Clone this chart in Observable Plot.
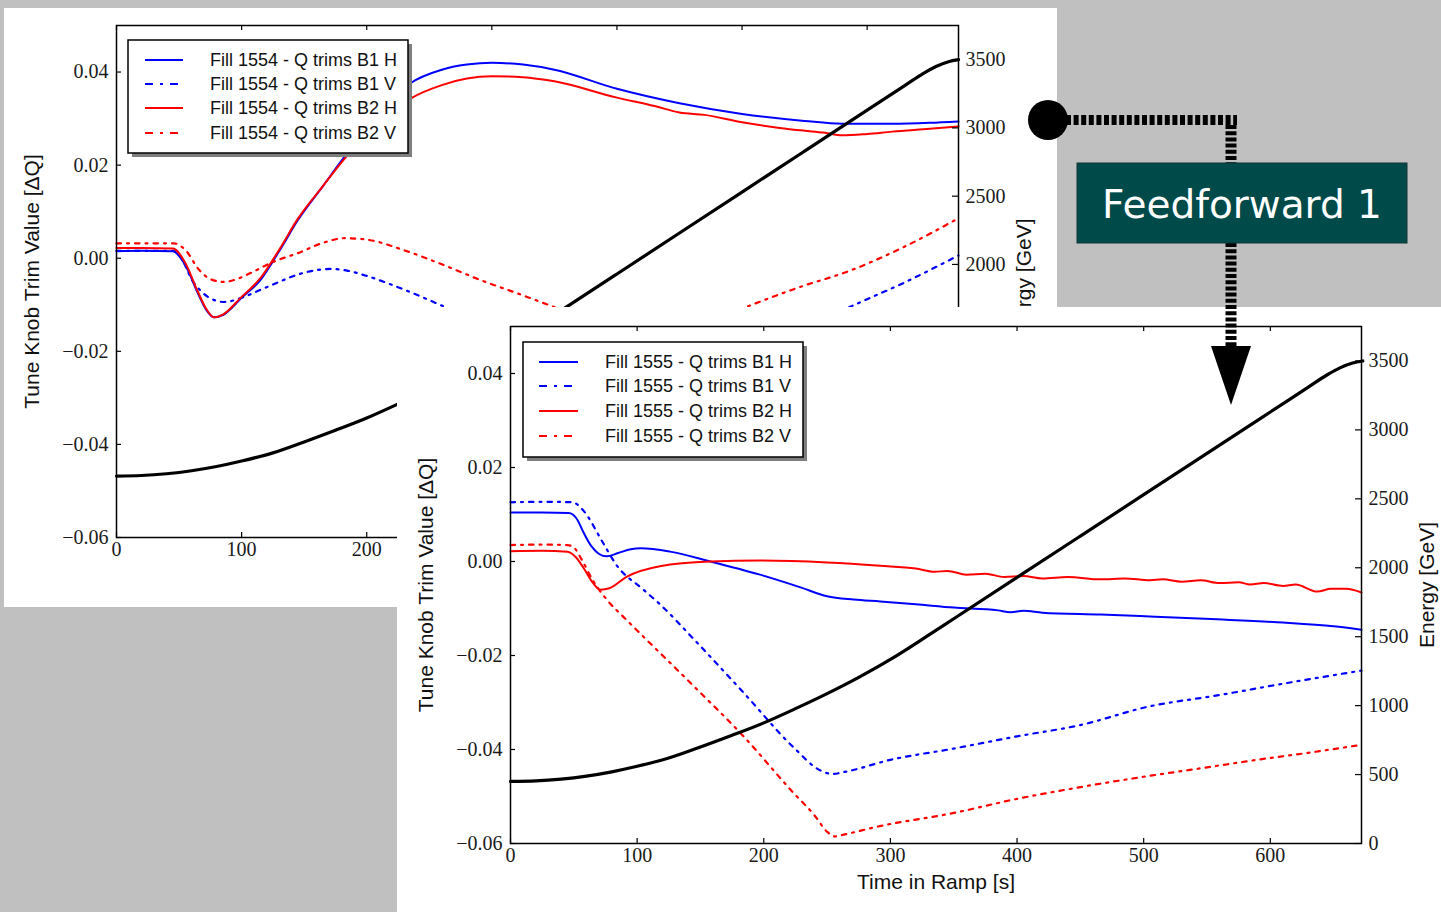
<!DOCTYPE html>
<html>
<head>
<meta charset="utf-8">
<script src="https://cdn.jsdelivr.net/npm/d3@7"></script>
<script src="https://cdn.jsdelivr.net/npm/@observablehq/plot@0.6"></script>
<style>
  html, body { margin: 0; padding: 0; }
  body { width: 1441px; height: 912px; overflow: hidden; background: #c0c0c0; position: relative; }
  .panel { position: absolute; background: #ffffff; overflow: hidden; }
  #p1 { left: 4px; top: 8px; width: 1053px; height: 599px; }
  #p2 { left: 397px; top: 307px; width: 1044px; height: 605px; }
  .panel svg { position: absolute; left: 0; top: 0; }
  #overlay { position: absolute; left: 0; top: 0; }
</style>
</head>
<body>
<div class="panel" id="p1"></div>
<div class="panel" id="p2"></div>
<svg id="overlay" width="1441" height="912"></svg>
<script>
// ---------------- DATA ----------------
const xTicks = [0, 100, 200, 300, 400, 500, 600];
const yTicks = [-0.06, -0.04, -0.02, 0, 0.02, 0.04];
const energyTicks = [0, 500, 1000, 1500, 2000, 2500, 3000, 3500];
// tick labels of the back chart that are not covered by the front chart
const xTickLabelsBack = [0, 100, 200];
const energyTickLabelsBack = [2000, 2500, 3000, 3500];
const yDomain = [-0.06, 0.05];
const energyMax = 3750;

// beam energy during the ramp [s, GeV]
const energyRamp = [[0,450],[20,454],[40,467],[60,489],[80,520],[100,560],[125,620],[150,700],[175,785],[200,875],[225,978],[250,1087],[275,1205],[300,1335],[325,1480],[350,1630],[400,1930],[450,2230],[500,2530],[550,2830],[600,3130],[630,3310],[645,3400],[655,3450],[665,3485],[673,3500]];

// Fill 1554 [s, dQ]
const fill1554_B1H = [[0,0.0015],[20,0.0016],[45,0.0015],[55,-0.0015],[65,-0.0075],[72,-0.0112],[78,-0.0127],[85,-0.0122],[100,-0.0085],[115,-0.0047],[130,0.0015],[145,0.0082],[165,0.0155],[182,0.0217],[210,0.031],[235,0.0376],[260,0.0405],[280,0.0416],[300,0.042],[325,0.0416],[350,0.0405],[400,0.0364],[450,0.0333],[500,0.031],[550,0.0295],[580,0.0289],[620,0.0289],[650,0.0291],[673,0.0294]];
const fill1554_B1V = [[0,0.0016],[45,0.0016],[52,0.0],[60,-0.0045],[68,-0.0072],[75,-0.0086],[86,-0.0094],[100,-0.0085],[115,-0.0068],[129,-0.0052],[145,-0.0035],[161,-0.0025],[172,-0.0023],[185,-0.0027],[200,-0.0038],[217,-0.0054],[235,-0.0073],[261,-0.0103],[300,-0.015],[350,-0.0205],[400,-0.024],[440,-0.025],[480,-0.0235],[530,-0.018],[586,-0.0105],[630,-0.0052],[673,0.0006]];
const fill1554_B2H = [[0,0.0022],[20,0.0022],[45,0.0021],[55,-0.001],[65,-0.0072],[72,-0.011],[78,-0.0127],[85,-0.0121],[100,-0.0083],[115,-0.0043],[130,0.0018],[145,0.0085],[165,0.0155],[182,0.0213],[210,0.029],[235,0.0343],[260,0.0372],[280,0.0386],[300,0.0391],[325,0.0389],[350,0.038],[400,0.0345],[430,0.0327],[450,0.0313],[470,0.0308],[500,0.0292],[530,0.028],[550,0.0274],[565,0.027],[580,0.0264],[600,0.0267],[620,0.0272],[650,0.0278],[673,0.0283]];
const fill1554_B2V = [[0,0.0032],[46,0.0032],[55,0.0018],[66,-0.0025],[76,-0.0046],[86,-0.0051],[96,-0.0045],[107,-0.0032],[125,-0.0008],[145,0.0011],[165,0.0033],[182,0.0043],[200,0.004],[230,0.0017],[260,-0.0013],[291,-0.0047],[320,-0.0075],[346,-0.0101],[380,-0.0135],[420,-0.0158],[460,-0.015],[503,-0.0105],[545,-0.0063],[587,-0.0026],[630,0.0025],[673,0.0086]];

// Fill 1555 [s, dQ]
const fill1555_B1H = [[0,0.0104],[25,0.0104],[46,0.0103],[52,0.0092],[58,0.006],[64,0.0032],[70,0.0016],[76,0.0011],[85,0.0018],[95,0.0026],[103,0.0028],[126,0.0021],[158,0.0],[197,-0.0028],[229,-0.0055],[250,-0.0074],[271,-0.0081],[292,-0.0085],[320,-0.0091],[350,-0.0098],[385,-0.0104],[395,-0.0108],[405,-0.0105],[420,-0.0109],[466,-0.0113],[505,-0.0117],[558,-0.0123],[610,-0.013],[650,-0.0138],[672,-0.0145]];
const fill1555_B1V = [[0,0.0126],[25,0.0127],[49,0.0126],[57,0.011],[73,0.004],[83,-0.0005],[105,-0.006],[118,-0.0091],[145,-0.0166],[184,-0.0279],[223,-0.0394],[245,-0.0445],[254,-0.0452],[265,-0.0447],[300,-0.0422],[350,-0.0398],[400,-0.0372],[450,-0.0348],[505,-0.0308],[558,-0.0285],[610,-0.026],[672,-0.0232]];
const fill1555_B2H = [[0,0.0022],[25,0.0023],[45,0.0021],[52,0.0008],[58,-0.0015],[65,-0.0045],[71,-0.006],[78,-0.0057],[92,-0.0032],[118,-0.001],[158,0.0],[197,0.0002],[250,-0.0002],[292,-0.0009],[320,-0.0015],[335,-0.0022],[345,-0.002],[360,-0.0028],[375,-0.0026],[390,-0.0033],[405,-0.0031],[420,-0.0036],[440,-0.0033],[466,-0.0038],[485,-0.0036],[505,-0.004],[515,-0.0038],[530,-0.0043],[545,-0.004],[560,-0.0046],[575,-0.0044],[584,-0.0049],[595,-0.0046],[610,-0.0052],[620,-0.0049],[637,-0.0064],[648,-0.0058],[660,-0.0058],[672,-0.0066]];
const fill1555_B2V = [[0,0.0035],[25,0.0036],[45,0.0035],[50,0.003],[56,0.0005],[65,-0.004],[76,-0.0081],[90,-0.012],[105,-0.016],[145,-0.0266],[184,-0.0372],[223,-0.0491],[240,-0.054],[250,-0.0575],[256,-0.0585],[265,-0.058],[290,-0.0564],[350,-0.0535],[400,-0.0505],[450,-0.048],[500,-0.0458],[550,-0.0438],[592,-0.0421],[630,-0.0407],[672,-0.039]];

const labels1554 = ["Fill 1554 - Q trims B1 H", "Fill 1554 - Q trims B1 V", "Fill 1554 - Q trims B2 H", "Fill 1554 - Q trims B2 V"];
const labels1555 = ["Fill 1555 - Q trims B1 H", "Fill 1555 - Q trims B1 V", "Fill 1555 - Q trims B2 H", "Fill 1555 - Q trims B2 V"];
const seriesColors = ["#0000ff", "#0000ff", "#ff0000", "#ff0000"];
const seriesDashed = [false, true, false, true];
const yLabel = "Tune Knob Trim Value [ΔQ]";
const y2Label = "Energy [GeV]";
const xLabel = "Time in Ramp [s]";
const boxLabel = "Feedforward 1";

// ---------------- STYLE ----------------
const SERIF = "'Liberation Serif', 'DejaVu Serif', serif";
const SANS = "'Liberation Sans', Arial, sans-serif";
const DASH = "4.5,6,2,6";

function makeChart({width, height, mL, mR, mT, mB, xMax, series, xLabelTicks, energyLabelTicks, showXTitle}) {
  const pw = width - mL - mR, ph = height - mT - mB;
  const e2y = e => yDomain[0] + e / energyMax * (yDomain[1] - yDomain[0]);
  const y2e = y => Math.round((y - yDomain[0]) / (yDomain[1] - yDomain[0]) * energyMax);
  const fmtY = d => Math.abs(d) < 1e-9 ? "0.00" : (d < 0 ? "\u2212" : "") + Math.abs(d).toFixed(2);
  const marks = [];
  series.forEach((s, i) => {
    marks.push(Plot.line(s, {x: d => d[0], y: d => d[1], stroke: seriesColors[i], strokeWidth: seriesDashed[i] ? 2.2 : 2,
      strokeDasharray: seriesDashed[i] ? DASH : undefined, curve: "monotone-x"}));
  });
  marks.push(Plot.line(energyRamp, {x: d => d[0], y: d => e2y(d[1]), stroke: "black", strokeWidth: 3.2, curve: "monotone-x"}));
  marks.push(Plot.frame({stroke: "black", strokeWidth: 1.5}));
  // inward ticks
  marks.push(Plot.ruleY(yTicks, {y: d => d, insetRight: pw - 5, stroke: "black", strokeWidth: 1.2}));
  marks.push(Plot.ruleY(energyTicks.map(e2y), {y: d => d, insetLeft: pw - 6, stroke: "black", strokeWidth: 1.2}));
  marks.push(Plot.ruleX(xTicks, {x: d => d, insetTop: ph - 5, stroke: "black", strokeWidth: 1.2}));
  marks.push(Plot.ruleX(xTicks, {x: d => d, insetBottom: ph - 5, stroke: "black", strokeWidth: 1.2}));
  // tick labels
  marks.push(Plot.axisY(yTicks, {anchor: "left", tickSize: 0, tickPadding: 8, tickFormat: fmtY, fontSize: 20, fontFamily: SERIF, fill: "#1a1a1a", label: null}));
  marks.push(Plot.axisY(energyLabelTicks.map(e2y), {anchor: "right", tickSize: 0, tickPadding: 7, tickFormat: y => String(y2e(y)), fontSize: 20, fontFamily: SERIF, fill: "#1a1a1a", label: null}));
  marks.push(Plot.axisX(xLabelTicks, {anchor: "bottom", tickSize: 0, tickPadding: 4, tickFormat: d => String(d), fontSize: 20, fontFamily: SERIF, fill: "#1a1a1a", label: null}));
  // axis titles
  marks.push(Plot.text([yLabel], {text: d => d, frameAnchor: "left", dx: -84, rotate: -90, textAnchor: "middle", lineAnchor: "middle", fontSize: 21, fontFamily: SANS, fill: "#111"}));
  marks.push(Plot.text([y2Label], {text: d => d, frameAnchor: "right", dx: 66, rotate: -90, textAnchor: "middle", lineAnchor: "middle", fontSize: 21, fontFamily: SANS, fill: "#111"}));
  if (showXTitle) marks.push(Plot.text([xLabel], {text: d => d, frameAnchor: "bottom", dy: 39, textAnchor: "middle", lineAnchor: "middle", fontSize: 21, fontFamily: SANS, fill: "#111"}));
  return Plot.plot({
    width, height, marginLeft: mL, marginRight: mR, marginTop: mT, marginBottom: mB,
    x: {domain: [0, xMax]}, y: {domain: yDomain},
    style: {background: "transparent", fontFamily: SERIF, color: "#111", overflow: "visible"},
    marks
  });
}

function addLegend(panelEl, pw, ph, {x, y, w, h, sx0, sx1, tx, rows, labels}) {
  const svg = d3.select(panelEl).append("svg").attr("width", pw).attr("height", ph);
  svg.append("rect").attr("x", x + 4).attr("y", y + 4).attr("width", w).attr("height", h).attr("fill", "#7f7f7f");
  svg.append("rect").attr("x", x).attr("y", y).attr("width", w).attr("height", h)
    .attr("fill", "#fff").attr("stroke", "#000").attr("stroke-width", 1.5);
  labels.forEach((lab, i) => {
    svg.append("line").attr("x1", sx0).attr("x2", sx1).attr("y1", rows[i]).attr("y2", rows[i])
      .attr("stroke", seriesColors[i]).attr("stroke-width", 2.2)
      .attr("stroke-dasharray", seriesDashed[i] ? "8,7,3,7" : null);
    svg.append("text").attr("x", tx).attr("y", rows[i]).attr("dy", "0.36em")
      .attr("font-family", SANS).attr("font-size", 18).attr("fill", "#111").text(lab);
  });
}

const p1 = document.getElementById("p1");
p1.appendChild(makeChart({width: 1053, height: 599, mL: 112, mR: 99, mT: 17, mB: 70, xMax: 673,
  series: [fill1554_B1H, fill1554_B1V, fill1554_B2H, fill1554_B2V],
  xLabelTicks: xTickLabelsBack, energyLabelTicks: energyTickLabelsBack, showXTitle: false}));
addLegend(p1, 1053, 599, {x: 124, y: 32, w: 280, h: 113, sx0: 141, sx1: 179, tx: 206, rows: [52, 76, 100, 125], labels: labels1554});

const p2 = document.getElementById("p2");
p2.appendChild(makeChart({width: 1044, height: 605, mL: 113, mR: 80, mT: 19, mB: 69, xMax: 672,
  series: [fill1555_B1H, fill1555_B1V, fill1555_B2H, fill1555_B2V],
  xLabelTicks: xTicks, energyLabelTicks: energyTicks, showXTitle: true}));
addLegend(p2, 1044, 605, {x: 126, y: 35, w: 280, h: 115, sx0: 142, sx1: 181, tx: 208, rows: [55, 79, 104, 129], labels: labels1555});

// ---------------- ANNOTATION ----------------
const ov = d3.select("#overlay");
ov.append("path").attr("d", "M1066,120 H1237").attr("stroke", "#000").attr("stroke-width", 10).attr("stroke-dasharray", "5,2.6").attr("fill", "none");
ov.append("path").attr("d", "M1231,125 V163").attr("stroke", "#000").attr("stroke-width", 11).attr("stroke-dasharray", "4,2.2").attr("fill", "none");
ov.append("path").attr("d", "M1231,243 V348").attr("stroke", "#000").attr("stroke-width", 11).attr("stroke-dasharray", "4,2.2").attr("fill", "none");
ov.append("path").attr("d", "M1211,346 L1251,346 L1231,405 Z").attr("fill", "#000");
ov.append("circle").attr("cx", 1048).attr("cy", 120).attr("r", 20).attr("fill", "#000");
ov.append("rect").attr("x", 1077).attr("y", 163).attr("width", 330).attr("height", 80).attr("fill", "#004a4a").attr("stroke", "#123434").attr("stroke-width", 1);
ov.append("text").attr("x", 1242).attr("y", 204).attr("dy", "0.36em").attr("text-anchor", "middle")
  .attr("font-family", "'DejaVu Sans', Verdana, sans-serif").attr("font-size", 39).attr("fill", "#fff").text(boxLabel);
</script>
</body>
</html>
